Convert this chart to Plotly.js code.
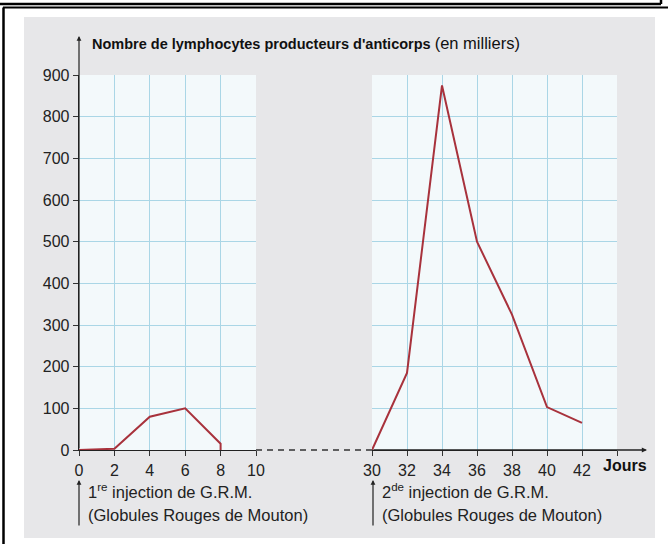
<!DOCTYPE html>
<html>
<head>
<meta charset="utf-8">
<script src="https://cdn.plot.ly/plotly-3.0.1.min.js"></script>
<style>html,body{margin:0;padding:0;background:#fff;}#chart{width:668px;height:544px;}</style>
</head>
<body>
<div id="chart"></div>
<script>
// Data
const days1 = [0, 2, 4, 6, 8, 8];
const lymph1 = [0, 3, 80, 100, 15, 0];
const days2 = [30, 32, 34, 36, 38, 40, 42];
const lymph2 = [0, 185, 875, 500, 325, 103, 65];
const ticks1 = [0, 2, 4, 6, 8, 10];
const ticks2 = [30, 32, 34, 36, 38, 40, 42, 44];
const tickLabels2 = ['30', '32', '34', '36', '38', '40', '42', ''];
const yTicks = [0, 100, 200, 300, 400, 500, 600, 700, 800, 900];

const W = 668, H = 544;
const px = x => x / W;
const py = y => 1 - y / H;

const lineColor = '#a8323c';
const gridColor = '#aad6e6';
const panelColor = '#f3f9fb';
const font = 'Liberation Sans, Arial, sans-serif';

const traces = [
  {x: days1, y: lymph1, xaxis: 'x', yaxis: 'y', mode: 'lines', line: {color: lineColor, width: 2}, hoverinfo: 'skip'},
  {x: days2, y: lymph2, xaxis: 'x2', yaxis: 'y', mode: 'lines', line: {color: lineColor, width: 2}, hoverinfo: 'skip'}
];

const axBase = {
  showgrid: true, gridcolor: gridColor, gridwidth: 1,
  zeroline: false, showline: true, linecolor: '#222', linewidth: 1.3,
  ticks: 'outside', ticklen: 5, tickcolor: '#333', tickwidth: 1,
  tickfont: {family: font, size: 16, color: '#222'}, fixedrange: true
};

const layout = {
  width: W, height: H,
  margin: {l: 0, r: 0, t: 0, b: 0},
  paper_bgcolor: '#ffffff',
  plot_bgcolor: 'rgba(0,0,0,0)',
  showlegend: false,
  xaxis: Object.assign({}, axBase, {domain: [px(79), px(256)], range: [0, 10], tickvals: ticks1, anchor: 'y'}),
  xaxis2: Object.assign({}, axBase, {domain: [px(372), px(617)], range: [30, 44], tickvals: ticks2, ticktext: tickLabels2, anchor: 'y'}),
  yaxis: Object.assign({}, axBase, {domain: [py(450), py(75)], range: [0, 900], tickvals: yTicks, anchor: 'x'}),
  shapes: [
    // scanned page background
    {type: 'rect', xref: 'paper', yref: 'paper', x0: px(24), x1: px(655), y0: py(538), y1: py(17), fillcolor: '#e7e7e9', line: {width: 0}, layer: 'below'},
    // grid panels
    {type: 'rect', xref: 'x', yref: 'y', x0: 0, x1: 10, y0: 0, y1: 900, fillcolor: panelColor, line: {width: 0}, layer: 'below'},
    {type: 'rect', xref: 'x2', yref: 'y', x0: 30, x1: 44, y0: 0, y1: 900, fillcolor: panelColor, line: {width: 0}, layer: 'below'},
    // frame lines
    {type: 'line', xref: 'paper', yref: 'paper', x0: 0, x1: px(661), y0: py(4), y1: py(4), line: {color: '#000', width: 2.5}},
    {type: 'line', xref: 'paper', yref: 'paper', x0: px(661), x1: px(661), y0: py(4), y1: 1, line: {color: '#000', width: 2.5}},
    {type: 'line', xref: 'paper', yref: 'paper', x0: px(3), x1: 1, y0: py(7.5), y1: py(7.5), line: {color: '#000', width: 2}},
    {type: 'line', xref: 'paper', yref: 'paper', x0: px(3.5), x1: px(3.5), y0: 0, y1: py(7.5), line: {color: '#000', width: 2.5}},
    // dashed axis break
    {type: 'line', xref: 'paper', yref: 'paper', x0: px(256), x1: px(372), y0: py(450), y1: py(450), line: {color: '#333', width: 1.3, dash: '6px,5px'}}
  ],
  annotations: [
    // y axis arrow
    {xref: 'paper', yref: 'paper', x: px(79), y: py(36), ax: 0, ay: 414, text: '', showarrow: true, arrowhead: 2, arrowsize: 0.8, arrowwidth: 1.2, arrowcolor: '#222', standoff: 0},
    // x axis arrow
    {xref: 'paper', yref: 'paper', x: px(647), y: py(450), ax: -275, ay: 0, text: '', showarrow: true, arrowhead: 2, arrowsize: 0.8, arrowwidth: 1.3, arrowcolor: '#222', standoff: 0},
    // title
    {xref: 'paper', yref: 'paper', x: px(90), y: py(43), xanchor: 'left', yanchor: 'middle', showarrow: false,
     text: "<b>Nombre de lymphocytes producteurs d'anticorps</b> <span style=\"font-size:16.5px\">(en milliers)</span>", font: {family: font, size: 14.5, color: '#111'}},
    // Jours
    {xref: 'paper', yref: 'paper', x: px(601), y: py(465), xanchor: 'left', yanchor: 'middle', showarrow: false,
     text: '<b>Jours</b>', font: {family: font, size: 16, color: '#111'}},
    // injection arrows
    {xref: 'paper', yref: 'paper', x: px(79), y: py(480), ax: 0, ay: 47, text: '', showarrow: true, arrowhead: 2, arrowsize: 0.8, arrowwidth: 1.2, arrowcolor: '#222', standoff: 0},
    {xref: 'paper', yref: 'paper', x: px(373), y: py(480), ax: 0, ay: 47, text: '', showarrow: true, arrowhead: 2, arrowsize: 0.8, arrowwidth: 1.2, arrowcolor: '#222', standoff: 0},
    // injection labels
    {xref: 'paper', yref: 'paper', x: px(86), y: py(491), xanchor: 'left', yanchor: 'middle', showarrow: false,
     text: '1<sup>re</sup> injection de G.R.M.', font: {family: font, size: 16.5, color: '#222'}},
    {xref: 'paper', yref: 'paper', x: px(86), y: py(515), xanchor: 'left', yanchor: 'middle', showarrow: false,
     text: '(Globules Rouges de Mouton)', font: {family: font, size: 16.5, color: '#222'}},
    {xref: 'paper', yref: 'paper', x: px(380), y: py(491), xanchor: 'left', yanchor: 'middle', showarrow: false,
     text: '2<sup>de</sup> injection de G.R.M.', font: {family: font, size: 16.5, color: '#222'}},
    {xref: 'paper', yref: 'paper', x: px(380), y: py(515), xanchor: 'left', yanchor: 'middle', showarrow: false,
     text: '(Globules Rouges de Mouton)', font: {family: font, size: 16.5, color: '#222'}}
  ]
};

Plotly.newPlot('chart', traces, layout, {staticPlot: true, displayModeBar: false});
</script>
</body>
</html>
